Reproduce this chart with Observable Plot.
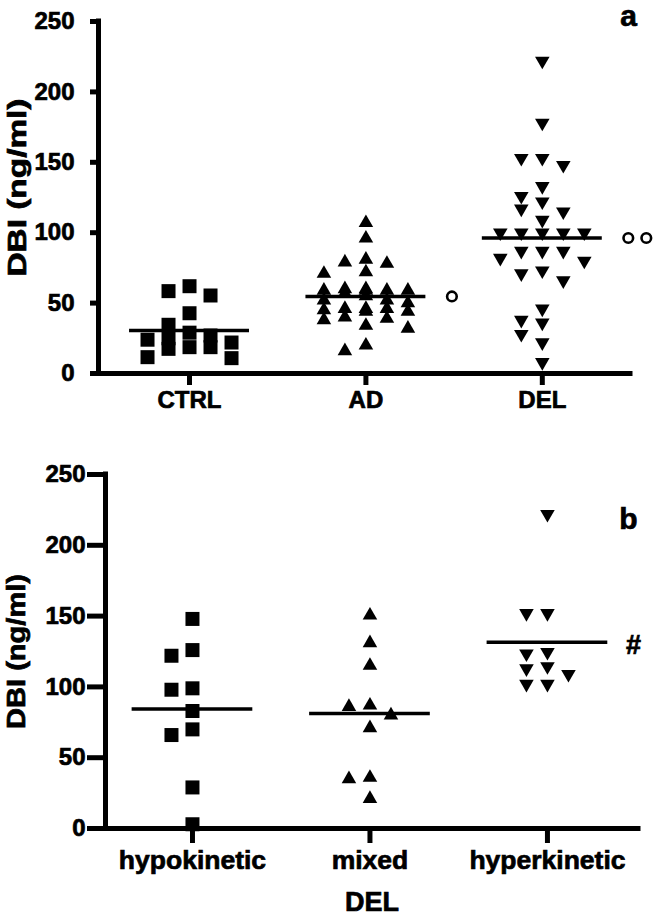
<!DOCTYPE html>
<html><head><meta charset="utf-8">
<script src="https://cdn.jsdelivr.net/npm/d3@7"></script>
<script src="https://cdn.jsdelivr.net/npm/@observablehq/plot@0.6"></script>
<style>
html,body{margin:0;padding:0;background:#fff;}
#chart svg{display:block;}
#chart svg text{stroke:#000;stroke-width:0.7px;paint-order:stroke;}
</style></head><body><div id="chart"></div>
<script>
// ---- data ----
const groupsA = ["CTRL", "AD", "DEL"];
const ctrlValues = [62, 58.5, 55.4, 42.8, 34.6, 29, 27, 25, 24, 22, 18.7, 17.5, 18.7, 10.9, 11.6];
const adValues = [107, 96, 81, 79, 78, 72, 71, 60, 60, 59, 59, 59, 59, 57, 55, 52, 52, 50, 46, 46, 46, 45, 44, 44, 40, 39, 38, 34, 32, 20, 16];
const delValues = [222, 178, 153, 148, 153, 133, 126, 122, 117, 115, 109, 100, 100, 100, 100, 100, 87, 87, 87, 82, 80, 73, 71, 66, 46, 38, 36, 28, 22, 8];

const groupsB = ["hypokinetic", "mixed", "hyperkinetic"];
const hypoValues = [148, 126, 122, 99, 98, 83, 70, 66, 29, 3];
const mixedValues = [150.5, 131, 115, 87, 86, 80, 71, 36, 35, 21];
const hyperValues = [222, 152, 152, 124.5, 123.5, 114.5, 113, 109, 102, 102];

const yTicks = [0, 50, 100, 150, 200, 250];
const yLabel = "DBI (ng/ml)";
const xLabelB = "DEL";
const panelLetters = ["a", "b"];
const sigCirclesA = [0, 1, 2];      // number of open-circle marks per group (panel a)
const sigTextB = ["", "", "#"];     // text mark per group (panel b)

// ---- layout helpers ----
const FONT = "'Liberation Sans', Arial, Helvetica, sans-serif";
const W = 657;

function swarm(values, pxPerUnit, colPx = 21, markW = 13, gapPx = 12) {
  const order = d3.range(values.length).sort((a, b) => d3.descending(values[a], values[b]));
  const placed = [];
  const off = new Array(values.length).fill(0);
  const cands = [0, -1, 1, -2, 2, -0.5, 0.5, -1.5, 1.5];
  for (const i of order) {
    const y = values[i] * pxPerUnit;
    let chosen = 0, best = -Infinity;
    for (const c of cands) {
      let worst = Infinity;
      for (const p of placed) {
        if (Math.abs(p.c - c) * colPx < markW) worst = Math.min(worst, Math.abs(p.y - y));
      }
      if (worst >= gapPx) { chosen = c; break; }
      if (worst > best) { best = worst; chosen = c; }
    }
    off[i] = chosen;
    placed.push({c: chosen, y});
  }
  return off;
}

function panel(cfg) {
  const {groups, series, height, ml, mr, mt, mb, xDomain, yTickSize, yTickPad,
         xTickSize, xTickPad, xFont, letter, letterDx, letterDy, yLabelDx, yLabelDy, yLabelLen} = cfg;
  const pxX = (W - ml - mr) / (xDomain[1] - xDomain[0]);
  const pxY = (height - mt - mb) / 250;
  const colUnits = 21 / pxX;
  const rows = [];
  series.forEach((vals, gi) => {
    const offs = swarm(vals, pxY);
    vals.forEach((v, i) => rows.push({gi, value: v, x: gi + offs[i] * colUnits}));
  });
  const means = series.map((vals, gi) => ({gi, mean: d3.mean(vals)}));
  const symbols = ["square", "triangle", "triangle"];
  const rotations = [0, 0, 180];
  const radii = [7.9, 5.4, 5.4];

  const marks = [
    Plot.ruleX([xDomain[0]], {y1: 0, y2: 250, strokeWidth: 5, strokeLinecap: "square"}),
    Plot.ruleY([0], {strokeWidth: 5, strokeLinecap: "square"}),
    Plot.axisY(yTicks, {tickSize: yTickSize, tickPadding: yTickPad, strokeWidth: 5, fontSize: 24, label: null}),
    Plot.axisX([0, 1, 2], {tickFormat: i => groups[i], tickSize: xTickSize, tickPadding: xTickPad, strokeWidth: 5, fontSize: xFont, label: null}),
    Plot.ruleY(means, {x1: d => d.gi - 0.34, x2: d => d.gi + 0.34, y: "mean", strokeWidth: 3.5}),
    ...[0, 1, 2].map(gi => Plot.dot(rows.filter(d => d.gi === gi), {
      x: "x", y: "value", symbol: symbols[gi], r: radii[gi], rotate: rotations[gi], fill: "black", stroke: "none"
    })),
    Plot.text([yLabel], {frameAnchor: "left", dx: yLabelDx, dy: yLabelDy, rotate: -90, fontSize: 26, textAnchor: "middle", lineAnchor: "middle"}),
    Plot.text([letter], {frameAnchor: "top-right", dx: letterDx, dy: letterDy, textAnchor: "middle", lineAnchor: "bottom", fontSize: 30})
  ];
  if (cfg.sigCircles) {
    const circ = [];
    cfg.sigCircles.forEach((n, gi) => { for (let k = 0; k < n; k++) circ.push({gi, k, mean: means[gi].mean}); });
    marks.push(Plot.dot(circ, {x: d => d.gi + (86 + d.k * 18) / pxX, y: "mean", r: 4.8, stroke: "black", strokeWidth: 2.6, fill: "white"}));
  }
  if (cfg.sigText) {
    const tx = cfg.sigText.map((t, gi) => ({gi, t, mean: means[gi].mean})).filter(d => d.t);
    marks.push(Plot.text(tx, {x: d => d.gi + 86 / pxX, y: "mean", text: "t", fontSize: 27, dy: 3}));
  }
  if (cfg.xLabel) {
    marks.push(Plot.text([cfg.xLabel], {frameAnchor: "bottom", dy: 82, lineAnchor: "bottom", fontSize: 27}));
  }
  const svg = Plot.plot({
    width: W, height, marginLeft: ml, marginRight: mr, marginTop: mt, marginBottom: mb,
    style: {fontFamily: FONT, fontWeight: "bold", color: "black", background: "white", overflow: "visible"},
    x: {type: "linear", domain: xDomain},
    y: {type: "linear", domain: [0, 250]},
    marks
  });
  d3.select(svg).selectAll("text").filter(function () { return this.textContent === yLabel; })
    .attr("textLength", yLabelLen).attr("lengthAdjust", "spacingAndGlyphs");
  return svg;
}

const chart = document.getElementById("chart");
chart.appendChild(panel({
  groups: groupsA, series: [ctrlValues, adValues, delValues],
  height: 430, ml: 98, mr: 27, mt: 21, mb: 57, xDomain: [-0.516, 2.5],
  yTickSize: 8, yTickPad: 16, xTickSize: 12, xTickPad: 5, xFont: 24,
  letter: panelLetters[0], letterDx: -2, letterDy: 4,
  yLabelDx: -81, yLabelDy: -10, yLabelLen: 178,
  sigCircles: sigCirclesA
}));
chart.appendChild(panel({
  groups: groupsB, series: [hypoValues, mixedValues, hyperValues],
  height: 486, ml: 105, mr: 19, mt: 44, mb: 88, xDomain: [-0.49, 2.513],
  yTickSize: 18, yTickPad: 2, xTickSize: 15, xTickPad: 7, xFont: 26.5,
  letter: panelLetters[1], letterDx: -10, letterDy: 54,
  yLabelDx: -89, yLabelDy: 0, yLabelLen: 155,
  sigText: sigTextB, xLabel: xLabelB
}));
</script></body></html>
